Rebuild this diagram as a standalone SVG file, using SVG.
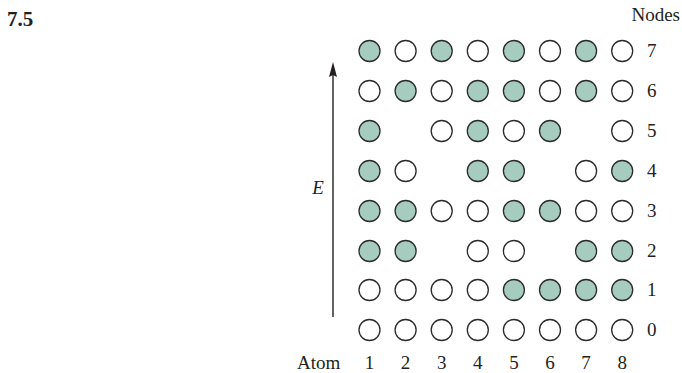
<svg xmlns="http://www.w3.org/2000/svg" width="682" height="373" viewBox="0 0 682 373">
<style>
.t{font-family:"Liberation Serif","Times New Roman",serif;font-size:19px;fill:#231f20}
.f{fill:#a6cbbf;stroke:#2b2b2b;stroke-width:1.3}
.o{fill:#ffffff;stroke:#2b2b2b;stroke-width:1.3}
.ax{stroke:#231f20;stroke-width:1.4;fill:none}
</style>
<rect width="682" height="373" fill="#ffffff"/>
<text x="7" y="26" class="t" style="font-weight:bold;font-size:21px">7.5</text>
<text x="680" y="21" class="t" text-anchor="end">Nodes</text>
<g id="connectors">
<line class="ax" x1="333" y1="317" x2="333" y2="74"/>
<polygon points="333,62 329,77 333,75 337,77" fill="#231f20"/>
</g>
<text x="318" y="194" class="t" text-anchor="middle" style="font-style:italic">E</text>
<g id="rowlabels">
<text x="647" y="57" class="t">7</text>
<text x="647" y="97" class="t">6</text>
<text x="647" y="137" class="t">5</text>
<text x="647" y="177" class="t">4</text>
<text x="647" y="217" class="t">3</text>
<text x="647" y="257" class="t">2</text>
<text x="647" y="296" class="t">1</text>
<text x="647" y="336" class="t">0</text>
</g>
<g id="atomlabels">
<text x="297" y="369" class="t">Atom</text>
<text x="369.5" y="369" class="t" text-anchor="middle">1</text>
<text x="405.6" y="369" class="t" text-anchor="middle">2</text>
<text x="441.7" y="369" class="t" text-anchor="middle">3</text>
<text x="477.8" y="369" class="t" text-anchor="middle">4</text>
<text x="513.9" y="369" class="t" text-anchor="middle">5</text>
<text x="550" y="369" class="t" text-anchor="middle">6</text>
<text x="586.1" y="369" class="t" text-anchor="middle">7</text>
<text x="622.2" y="369" class="t" text-anchor="middle">8</text>
</g>
<!-- row 7 -->
<g id="a1e7"><circle class="f" cx="369.5" cy="51" r="10.5"/></g>
<g id="a2e7"><circle class="o" cx="405.6" cy="51" r="10.5"/></g>
<g id="a3e7"><circle class="f" cx="441.7" cy="51" r="10.5"/></g>
<g id="a4e7"><circle class="o" cx="477.8" cy="51" r="10.5"/></g>
<g id="a5e7"><circle class="f" cx="513.9" cy="51" r="10.5"/></g>
<g id="a6e7"><circle class="o" cx="550" cy="51" r="10.5"/></g>
<g id="a7e7"><circle class="f" cx="586.1" cy="51" r="10.5"/></g>
<g id="a8e7"><circle class="o" cx="622.2" cy="51" r="10.5"/></g>
<!-- row 6 -->
<g id="a1e6"><circle class="o" cx="369.5" cy="91" r="10.5"/></g>
<g id="a2e6"><circle class="f" cx="405.6" cy="91" r="10.5"/></g>
<g id="a3e6"><circle class="o" cx="441.7" cy="91" r="10.5"/></g>
<g id="a4e6"><circle class="f" cx="477.8" cy="91" r="10.5"/></g>
<g id="a5e6"><circle class="f" cx="513.9" cy="91" r="10.5"/></g>
<g id="a6e6"><circle class="o" cx="550" cy="91" r="10.5"/></g>
<g id="a7e6"><circle class="f" cx="586.1" cy="91" r="10.5"/></g>
<g id="a8e6"><circle class="o" cx="622.2" cy="91" r="10.5"/></g>
<!-- row 5 -->
<g id="a1e5"><circle class="f" cx="369.5" cy="131" r="10.5"/></g>
<g id="a3e5"><circle class="o" cx="441.7" cy="131" r="10.5"/></g>
<g id="a4e5"><circle class="f" cx="477.8" cy="131" r="10.5"/></g>
<g id="a5e5"><circle class="o" cx="513.9" cy="131" r="10.5"/></g>
<g id="a6e5"><circle class="f" cx="550" cy="131" r="10.5"/></g>
<g id="a8e5"><circle class="o" cx="622.2" cy="131" r="10.5"/></g>
<!-- row 4 -->
<g id="a1e4"><circle class="f" cx="369.5" cy="171" r="10.5"/></g>
<g id="a2e4"><circle class="o" cx="405.6" cy="171" r="10.5"/></g>
<g id="a4e4"><circle class="f" cx="477.8" cy="171" r="10.5"/></g>
<g id="a5e4"><circle class="f" cx="513.9" cy="171" r="10.5"/></g>
<g id="a7e4"><circle class="o" cx="586.1" cy="171" r="10.5"/></g>
<g id="a8e4"><circle class="f" cx="622.2" cy="171" r="10.5"/></g>
<!-- row 3 -->
<g id="a1e3"><circle class="f" cx="369.5" cy="211" r="10.5"/></g>
<g id="a2e3"><circle class="f" cx="405.6" cy="211" r="10.5"/></g>
<g id="a3e3"><circle class="o" cx="441.7" cy="211" r="10.5"/></g>
<g id="a4e3"><circle class="o" cx="477.8" cy="211" r="10.5"/></g>
<g id="a5e3"><circle class="f" cx="513.9" cy="211" r="10.5"/></g>
<g id="a6e3"><circle class="f" cx="550" cy="211" r="10.5"/></g>
<g id="a7e3"><circle class="o" cx="586.1" cy="211" r="10.5"/></g>
<g id="a8e3"><circle class="o" cx="622.2" cy="211" r="10.5"/></g>
<!-- row 2 -->
<g id="a1e2"><circle class="f" cx="369.5" cy="251" r="10.5"/></g>
<g id="a2e2"><circle class="f" cx="405.6" cy="251" r="10.5"/></g>
<g id="a4e2"><circle class="o" cx="477.8" cy="251" r="10.5"/></g>
<g id="a5e2"><circle class="o" cx="513.9" cy="251" r="10.5"/></g>
<g id="a7e2"><circle class="f" cx="586.1" cy="251" r="10.5"/></g>
<g id="a8e2"><circle class="f" cx="622.2" cy="251" r="10.5"/></g>
<!-- row 1 -->
<g id="a1e1"><circle class="o" cx="369.5" cy="290" r="10.5"/></g>
<g id="a2e1"><circle class="o" cx="405.6" cy="290" r="10.5"/></g>
<g id="a3e1"><circle class="o" cx="441.7" cy="290" r="10.5"/></g>
<g id="a4e1"><circle class="o" cx="477.8" cy="290" r="10.5"/></g>
<g id="a5e1"><circle class="f" cx="513.9" cy="290" r="10.5"/></g>
<g id="a6e1"><circle class="f" cx="550" cy="290" r="10.5"/></g>
<g id="a7e1"><circle class="f" cx="586.1" cy="290" r="10.5"/></g>
<g id="a8e1"><circle class="f" cx="622.2" cy="290" r="10.5"/></g>
<!-- row 0 -->
<g id="a1e0"><circle class="o" cx="369.5" cy="330" r="10.5"/></g>
<g id="a2e0"><circle class="o" cx="405.6" cy="330" r="10.5"/></g>
<g id="a3e0"><circle class="o" cx="441.7" cy="330" r="10.5"/></g>
<g id="a4e0"><circle class="o" cx="477.8" cy="330" r="10.5"/></g>
<g id="a5e0"><circle class="o" cx="513.9" cy="330" r="10.5"/></g>
<g id="a6e0"><circle class="o" cx="550" cy="330" r="10.5"/></g>
<g id="a7e0"><circle class="o" cx="586.1" cy="330" r="10.5"/></g>
<g id="a8e0"><circle class="o" cx="622.2" cy="330" r="10.5"/></g>
</svg>
